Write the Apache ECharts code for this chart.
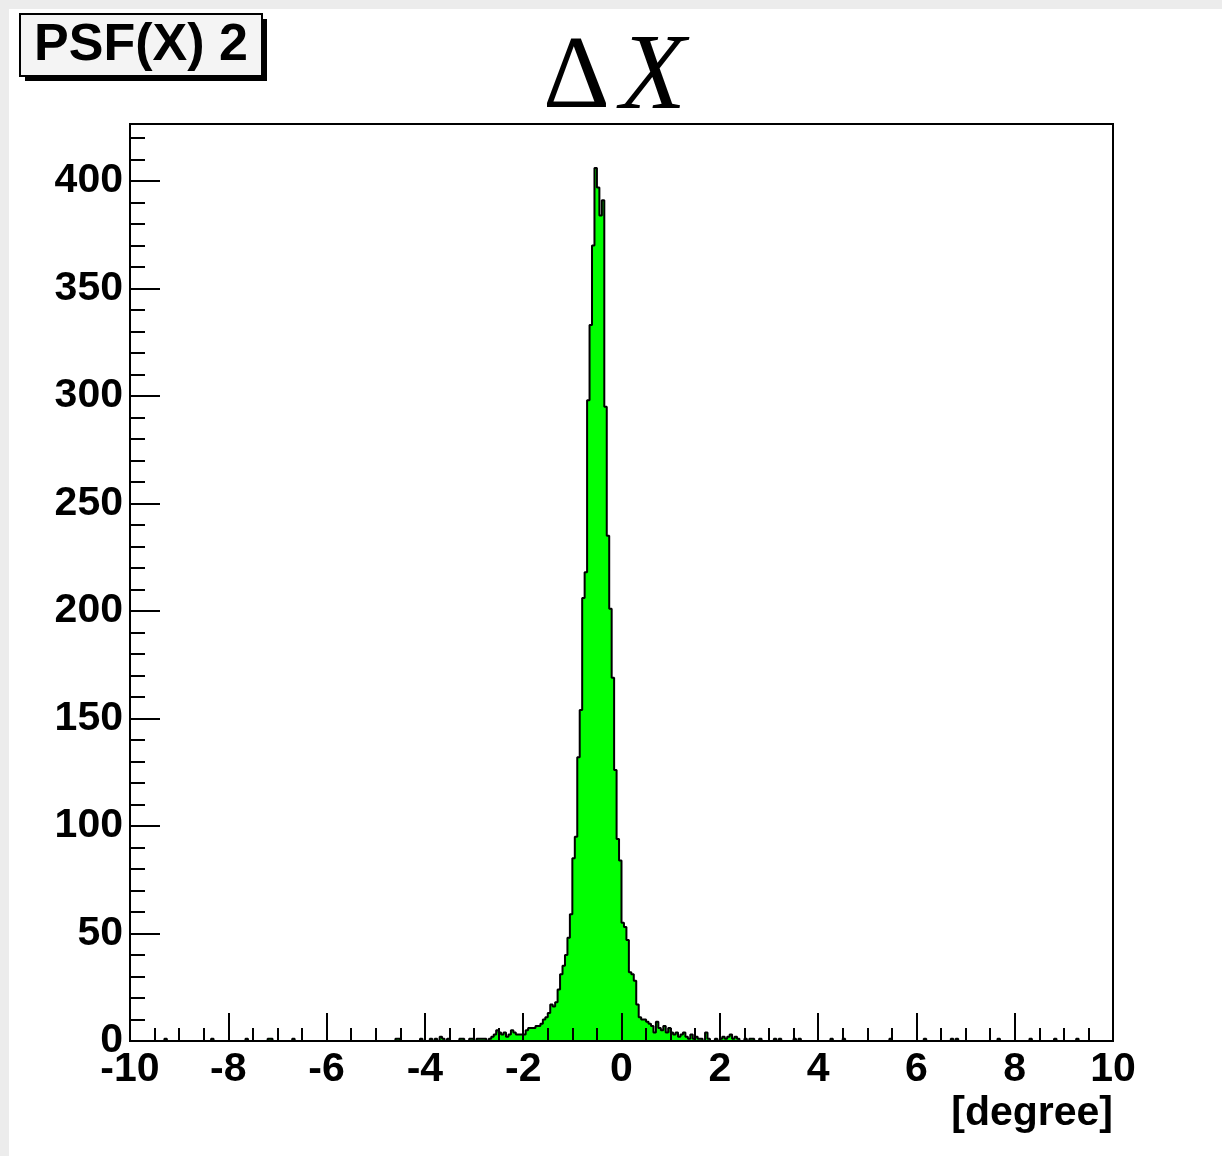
<!DOCTYPE html>
<html>
<head>
<meta charset="utf-8">
<script src="https://cdn.jsdelivr.net/npm/echarts@6/dist/echarts.min.js"></script>
<style>
  html, body { margin: 0; padding: 0; background: #ececec; }
  #c { position: absolute; left: 9px; top: 9px; width: 1213px; height: 1147px; background: #ffffff; }
</style>
</head>
<body>
<div id="c"></div>
<script>
// ---- data ----
const histMin = -10;
const histMax = 10;
const binWidth = 0.05;
const nBins = 400;
// counts for bins 140..250 (bin k covers [-10 + 0.05k, -10 + 0.05(k+1)])
const coreFirstBin = 140;
const coreCounts = [
  0, 1, 1, 1, 1, 0, 1, 2, 3, 5,        // 140-149
  4, 3, 4, 2, 3, 5, 4, 3, 3, 3,        // 150-159
  3, 5, 6, 6, 6, 7, 7, 8, 10, 11,      // 160-169
  13, 17, 16, 18, 24, 31, 35, 40, 48, 59, // 170-179
  85, 95, 132, 154, 206, 218, 298, 333, 370, 406, // 180-189
  397, 384, 391, 295, 235, 201, 169, 126, 94, 84, // 190-199
  55, 53, 47, 32, 31, 28, 17, 11, 10, 10, // 200-209
  9, 8, 7, 4, 9, 6, 5, 7, 4, 6,        // 210-219
  4, 3, 4, 2, 3, 4, 2, 1, 3, 1,        // 220-229
  2, 1, 1, 0, 4, 1, 0, 0, 1, 0,        // 230-239
  1, 2, 1, 2, 3, 1, 2, 1, 0, 0, 1      // 240-250
];
// isolated tail bins
const tailBins   = [14, 33, 47, 56, 57, 66, 108, 109, 118, 122, 124, 126, 127, 129, 134, 135, 138, 139,
                    252, 253, 256, 262, 264, 270, 272, 285, 290, 309, 323, 334, 336, 353, 366, 376, 385];
const tailCounts = [1, 1, 1, 1, 1, 1, 1, 1, 1, 1, 1, 2, 1, 1, 1, 1, 1, 1,
                    1, 1, 1, 1, 1, 1, 1, 1, 1, 1, 1, 1, 1, 1, 1, 1, 1];
const xTickStep = 2;
const yTickStep = 50;
const yMax = 426.5;

// ---- build histogram ----
const counts = new Array(nBins).fill(0);
coreCounts.forEach((c, i) => { counts[coreFirstBin + i] = c; });
tailBins.forEach((b, i) => { counts[b] = tailCounts[i]; });
const points = [];
for (let k = 0; k < nBins; k++) points.push([histMin + k * binWidth, counts[k]]);
points.push([histMax, 0]);

const chart = echarts.init(document.getElementById('c'), null, { renderer: 'canvas' });
const font = 'Liberation Sans, Arial, Helvetica, sans-serif';
const serif = 'Liberation Serif, Times New Roman, serif';
chart.setOption({
  animation: false,
  backgroundColor: '#ffffff',
  title: [
    {
      text: '{d|Δ}{x|X}',
      left: 529, top: 12,
      textStyle: {
        fontWeight: 'normal',
        rich: {
          d: { fontFamily: serif, fontWeight: 'normal', fontSize: 104, color: '#000' },
          x: { fontFamily: serif, fontWeight: 'normal', fontStyle: 'italic', fontSize: 108, color: '#000', padding: [0, 0, 0, 10] }
        }
      }
    }
  ],
  graphic: [
    { type: 'rect', shape: { x: 16, y: 10, width: 242, height: 62 }, style: { fill: '#000' }, z: 10 },
    { type: 'rect', shape: { x: 11, y: 5, width: 242, height: 62 }, style: { fill: '#f4f4f4', stroke: '#000', lineWidth: 2 }, z: 11 },
    { type: 'text', x: 132, y: 37, z: 12,
      style: { text: 'PSF(X) 2', fill: '#000', font: 'bold 52px ' + font, textAlign: 'center', textVerticalAlign: 'middle' } }
  ],
  grid: {
    left: 121, right: 109, top: 115, bottom: 115,
    show: true, borderColor: '#000', borderWidth: 2, backgroundColor: 'transparent'
  },
  xAxis: [
    {
      type: 'value', min: histMin, max: histMax, interval: xTickStep, z: 5,
      axisLine: { show: true, onZero: false, lineStyle: { color: '#000', width: 2 } },
      axisTick: { show: true, inside: true, length: 28, lineStyle: { color: '#000', width: 2 } },
      minorTick: { show: true, splitNumber: 4, length: 13, lineStyle: { color: '#000', width: 2 } },
      splitLine: { show: false },
      axisLabel: { margin: 8, color: '#000', fontFamily: font, fontWeight: 'bold', fontSize: 41 },
      name: '[degree]', nameLocation: 'end', nameGap: 0,
      nameTextStyle: { align: 'right', verticalAlign: 'top', padding: [52, 0, 0, 0], color: '#000', fontFamily: font, fontWeight: 'bold', fontSize: 41 }
    }
  ],
  yAxis: [
    {
      type: 'value', min: 0, max: yMax, interval: yTickStep, z: 5,
      axisLine: { show: true, onZero: false, lineStyle: { color: '#000', width: 2 } },
      axisTick: { show: true, inside: true, length: 30, lineStyle: { color: '#000', width: 2 } },
      splitLine: { show: false },
      axisLabel: {
        margin: 7, color: '#000', fontFamily: font, fontWeight: 'bold', fontSize: 41,
        formatter: v => (v % yTickStep === 0 ? String(v) : '')
      }
    },
    {
      type: 'value', min: 0, max: yMax, interval: 10, position: 'left', offset: 0, z: 5,
      axisLine: { show: false, onZero: false },
      axisTick: { show: true, inside: true, length: 15, lineStyle: { color: '#000', width: 2 } },
      splitLine: { show: false },
      axisLabel: { show: false }
    }
  ],
  series: [
    {
      type: 'line', step: 'end', data: points,
      xAxisIndex: 0, yAxisIndex: 0,
      showSymbol: false, symbol: 'none', z: 2,
      lineStyle: { color: '#000', width: 2 },
      areaStyle: { color: '#00ff00', opacity: 1 }
    }
  ]
});
</script>
</body>
</html>
